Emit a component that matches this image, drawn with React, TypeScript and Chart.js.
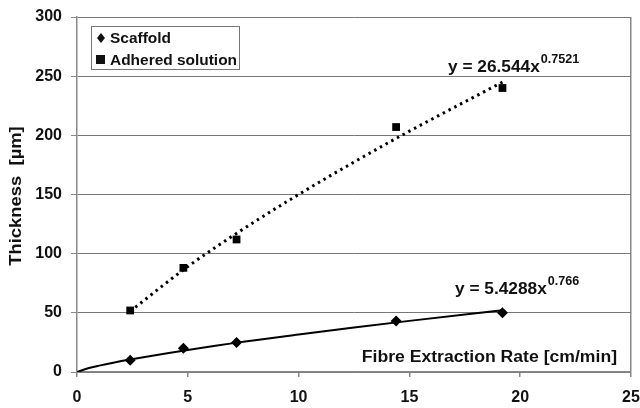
import React, { useEffect, useRef } from "react";
import { Chart, registerables } from "chart.js";

Chart.register(...registerables);

const xRates = [2.4, 4.8, 7.2, 14.4, 19.2];
const scaffold = [10, 20, 25, 43, 50];
const adhered = [52, 88, 112, 207, 240];

const scaffoldTrendX = [0, 0.5, 1, 2.4, 5, 7.5, 10, 12.5, 15, 19.2];
const scaffoldTrendY = [0, 3.2, 5.4, 10.5, 18.6, 25.6, 31.7, 37.6, 43.2, 52.2];
const adheredTrendX = [2.4, 5, 7.5, 10, 12.5, 15, 19.2];
const adheredTrendY = [51.3, 89.1, 120.8, 150, 177.4, 203.5, 245];

const legendLabels = ["Scaffold", "Adhered solution"];
const eqScaffold = ["y = 5.4288x", "0.766"];
const eqAdhered = ["y = 26.544x", "0.7521"];
const xTitle = "Fibre Extraction Rate [cm/min]";
const yTitle = "Thickness  [µm]";

const FONT = "Liberation Sans, Arial, sans-serif";

function stretchText(
  ctx: CanvasRenderingContext2D,
  text: string,
  x: number,
  y: number,
  sx: number,
  align: "left" | "right" | "center"
) {
  ctx.save();
  ctx.translate(x, y);
  ctx.scale(sx, 1);
  ctx.textAlign = align;
  ctx.fillText(text, 0, 0);
  const w = ctx.measureText(text).width * sx;
  ctx.restore();
  return w;
}

const overlay = {
  id: "overlay",
  afterDraw(chart: any) {
    const ctx = chart.ctx as CanvasRenderingContext2D;
    ctx.save();
    ctx.fillStyle = "#111";
    ctx.textBaseline = "alphabetic";
    // y title
    ctx.save();
    ctx.translate(17, 196);
    ctx.rotate(-Math.PI / 2);
    ctx.font = `bold 16px ${FONT}`;
    ctx.textBaseline = "middle";
    stretchText(ctx, yTitle, 0, 0, 1.15, "center");
    ctx.restore();
    // x title inside plot
    ctx.font = `bold 16px ${FONT}`;
    stretchText(ctx, xTitle, 617, 362, 1.1, "right");
    // equations
    const drawEq = (eq: string[], x: number, y: number) => {
      ctx.font = `bold 16px ${FONT}`;
      const w = stretchText(ctx, eq[0], x, y, 1.08, "left");
      ctx.font = `bold 12px ${FONT}`;
      stretchText(ctx, eq[1], x + w + 1, y - 9, 1.05, "left");
    };
    drawEq(eqAdhered, 448, 72);
    drawEq(eqScaffold, 455, 294);
    // legend
    ctx.fillStyle = "#fff";
    ctx.fillRect(91.5, 26.5, 148, 43);
    ctx.strokeStyle = "#777";
    ctx.lineWidth = 1;
    ctx.strokeRect(91.5, 26.5, 148, 43);
    ctx.fillStyle = "#111";
    ctx.beginPath();
    ctx.moveTo(101, 33);
    ctx.lineTo(105, 38);
    ctx.lineTo(101, 43);
    ctx.lineTo(97, 38);
    ctx.closePath();
    ctx.fill();
    ctx.fillRect(96, 55, 9, 9);
    ctx.font = `bold 15px ${FONT}`;
    stretchText(ctx, legendLabels[0], 110, 43, 1.03, "left");
    stretchText(ctx, legendLabels[1], 110, 65, 1.03, "left");
    ctx.restore();
  },
};

export default function App() {
  const ref = useRef<HTMLCanvasElement>(null);
  useEffect(() => {
    document.body.style.margin = "0";
    const ctx = ref.current!.getContext("2d")!;
    const chart = new Chart(ctx, {
      type: "scatter",
      data: {
        datasets: [
          {
            label: legendLabels[0],
            data: xRates.map((x, i) => ({ x, y: scaffold[i] })),
            pointStyle: "rectRot",
            pointRadius: 5.5,
            backgroundColor: "#000",
            borderColor: "#000",
            borderWidth: 0,
          },
          {
            label: legendLabels[1],
            data: xRates.map((x, i) => ({ x, y: adhered[i] })),
            pointStyle: "rect",
            pointRadius: 5.5,
            backgroundColor: "#000",
            borderColor: "#000",
            borderWidth: 0,
          },
          {
            label: "trend1",
            data: scaffoldTrendX.map((x, i) => ({ x, y: scaffoldTrendY[i] })),
            showLine: true,
            pointRadius: 0,
            borderColor: "#000",
            borderWidth: 2,
            cubicInterpolationMode: "monotone",
          },
          {
            label: "trend2",
            data: adheredTrendX.map((x, i) => ({ x, y: adheredTrendY[i] })),
            showLine: true,
            pointRadius: 0,
            borderColor: "#000",
            borderWidth: 3,
            borderDash: [2.5, 4],
            cubicInterpolationMode: "monotone",
          },
        ],
      },
      options: {
        animation: false,
        responsive: false,
        layout: { padding: { left: 0, right: 9, top: 17, bottom: 0 } },
        plugins: { legend: { display: false }, tooltip: { enabled: false } },
        scales: {
          x: {
            type: "linear",
            min: 0,
            max: 25,
            ticks: {
              stepSize: 5,
              color: "#111",
              font: { family: FONT, size: 16, weight: "bold" },
              padding: 11,
            },
            grid: {
              color: (c: any) => (c.tick && c.tick.value === 25 ? "#888" : "transparent"),
              tickColor: "#888",
              tickLength: 5,
              lineWidth: 1.5,
            },
            border: { color: "#888", width: 1.5 },
            afterFit: (s: any) => {
              s.height = 36;
              s.paddingRight = 0;
              s.paddingLeft = 0;
            },
          },
          y: {
            min: 0,
            max: 300,
            ticks: {
              stepSize: 50,
              color: "#111",
              font: { family: FONT, size: 16, weight: "bold" },
              padding: 9,
            },
            grid: {
              color: "#777",
              tickColor: "#888",
              tickLength: 6,
              lineWidth: 1,
            },
            border: { color: "#888", width: 1.5 },
            afterFit: (s: any) => {
              s.width = 77;
              s.paddingTop = 0;
              s.paddingBottom = 0;
            },
          },
        },
      },
      plugins: [overlay],
    } as any);
    return () => chart.destroy();
  }, []);
  return (
    <div style={{ width: 640, height: 408 }}>
      <canvas ref={ref} width={640} height={408} />
    </div>
  );
}
